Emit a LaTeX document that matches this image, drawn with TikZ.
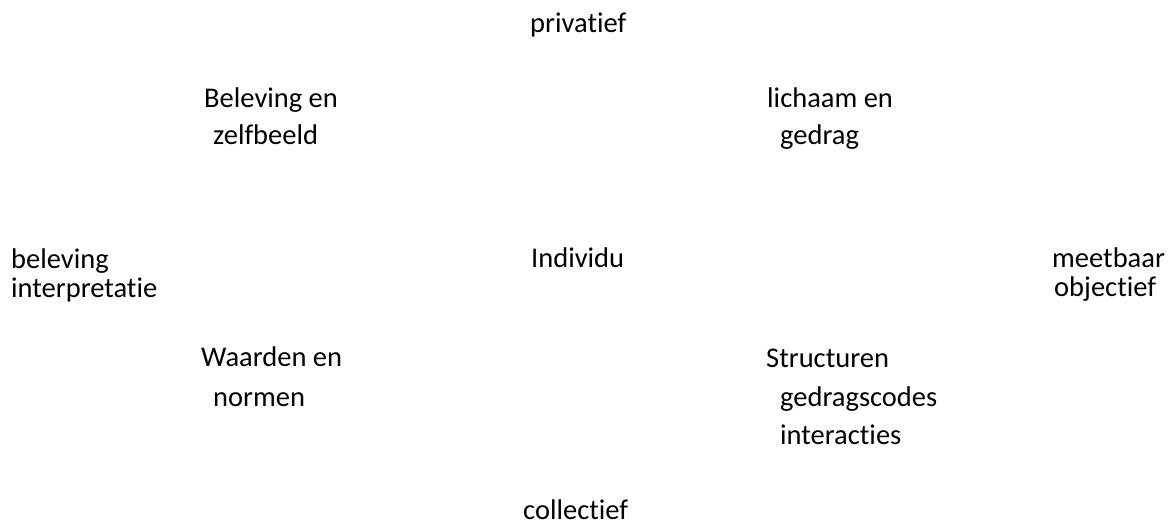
\documentclass[tikz,border=0pt]{standalone}
\usepackage{fontspec}
\setmainfont{Carlito}[Ligatures={NoCommon,NoContextual}]
\begin{document}
\begin{tikzpicture}[x=1pt,y=-1pt,
  lbl/.style={anchor=base west,inner sep=0pt,font=\fontsize{28.5}{34}\selectfont}]
\useasboundingbox (0,0) rectangle (1171,524);
\node[lbl] (priv) at (530,33) {privatief};
\node[lbl] (bel1) at (204,108) {Beleving en};
\node[lbl] (bel2) at (213,145) {zelfbeeld};
\node[lbl] (lic1) at (767,108) {lichaam en};
\node[lbl] (lic2) at (780,145) {gedrag};
\node[lbl] (bev1) at (11,268) {beleving};
\node[lbl] (bev2) at (11,297) {interpretatie};
\node[lbl] (ind) at (531,267) {Individu};
\node[lbl] (mee1) at (1052,267) {meetbaar};
\node[lbl] (mee2) at (1054,296) {objectief};
\node[lbl] (waa1) at (201,366) {Waarden en};
\node[lbl] (waa2) at (213,406) {normen};
\node[lbl] (str1) at (766,367) {Structuren};
\node[lbl] (str2) at (780,406) {gedragscodes};
\node[lbl] (str3) at (780,444) {interacties};
\node[lbl] (col) at (523,519) {collectief};
\end{tikzpicture}
\end{document}
